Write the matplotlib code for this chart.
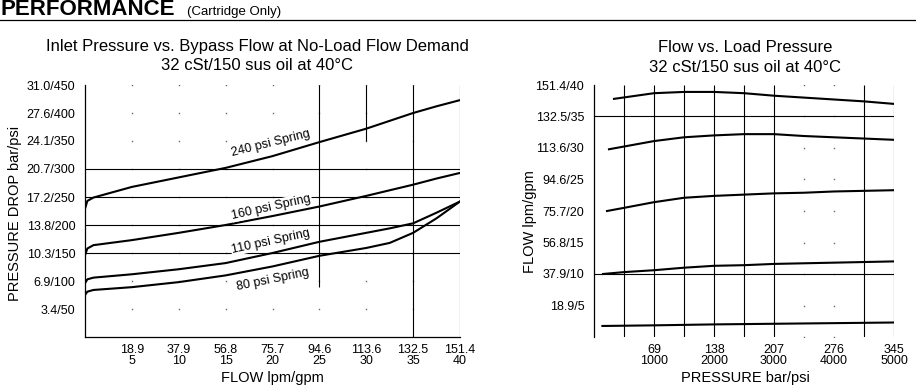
# Performance charts (cartridge only): inlet pressure vs bypass flow, flow vs load pressure
import matplotlib
matplotlib.use("Agg")
import matplotlib.pyplot as plt
from matplotlib.lines import Line2D

plt.rcParams["font.family"] = ["Liberation Sans", "DejaVu Sans"]

# ---- left chart data: flow (gpm) vs pressure drop (psi) ----
flow_gpm = [0, 0.25, 0.9, 5, 10, 15, 20, 25, 30, 32.5, 35, 37.5, 40]
spring_240 = [229, 243, 249, 268, 285, 302, 323, 348, 372, 386, 400, 412, 423]
spring_160 = [146, 158, 164, 173, 186, 200, 216, 233, 252, 262, 272, 283, 293]
spring_110 = [96, 103, 106, 112, 121, 132, 150, 170, 186, 194, 203, 222, 242]
spring_80 = [75, 81, 84, 89, 98, 110, 126, 145, 159, 168, 186, 212, 242]
spring_names = ["240 psi Spring", "160 psi Spring", "110 psi Spring", "80 psi Spring"]

left_xticks = [5, 10, 15, 20, 25, 30, 35, 40]
left_xlabels = ["18.9\n5", "37.9\n10", "56.8\n15", "75.7\n20", "94.6\n25",
                "113.6\n30", "132.5\n35", "151.4\n40"]
left_yticks = [50, 100, 150, 200, 250, 300, 350, 400, 450]
left_ylabels = ["3.4/50", "6.9/100", "10.3/150", "13.8/200", "17.2/250",
                "20.7/300", "24.1/350", "27.6/400", "31.0/450"]

# ---- right chart data: load pressure (psi) vs flow (gpm) ----
p_top = [333, 1000, 1500, 2000, 2500, 3000, 3500, 4000, 4500, 5000]
q_top = [37.8, 38.7, 38.9, 38.9, 38.7, 38.3, 38.0, 37.7, 37.4, 37.0]
p_2 = [250, 1000, 1500, 2000, 2500, 3000, 3500, 4000, 4500, 5000]
q_2 = [29.8, 31.1, 31.7, 32.0, 32.2, 32.2, 31.9, 31.7, 31.5, 31.3]
p_3 = [217, 500, 1000, 1500, 2000, 2500, 3000, 3500, 4000, 4500, 5000]
q_3 = [20.0, 20.5, 21.4, 22.1, 22.4, 22.6, 22.8, 22.9, 23.1, 23.2, 23.3]
p_4 = [150, 500, 1000, 1500, 2000, 2500, 3000, 4000, 5000]
q_4 = [10.0, 10.3, 10.6, 11.0, 11.3, 11.4, 11.6, 11.8, 12.0]
p_5 = [140, 1000, 2000, 3000, 4000, 5000]
q_5 = [1.75, 1.85, 2.0, 2.1, 2.2, 2.3]

right_xticks = [1000, 2000, 3000, 4000, 5000]
right_xlabels = ["69\n1000", "138\n2000", "207\n3000", "276\n4000", "345\n5000"]
right_yticks = [5, 10, 15, 20, 25, 30, 35, 40]
right_ylabels = ["18.9/5", "37.9/10", "56.8/15", "75.7/20", "94.6/25",
                 "113.6/30", "132.5/35", "151.4/40"]

W, H = 916, 386
fig = plt.figure(figsize=(W / 100, H / 100), dpi=100)


def fx(px):
    return px / W


def fy(py):
    return 1 - py / H


# header
fig.text(fx(1), fy(15), "PERFORMANCE", fontsize=16, fontweight="bold", va="baseline")
fig.text(fx(187), fy(15), "(Cartridge Only)", fontsize=9.5, va="baseline")
fig.add_artist(Line2D([0, 1], [fy(19.5), fy(19.5)], color="black", lw=0.9))

# ================= left chart =================
ax = fig.add_axes([fx(85), fy(337), fx(460) - fx(85), fy(85) - fy(337)])
ax.set_xlim(0, 40)
ax.set_ylim(0, 450)
for s in ["top", "right"]:
    ax.spines[s].set_visible(False)
for s in ["left", "bottom"]:
    ax.spines[s].set_linewidth(0.9)

# dotted grid points
for gx in range(5, 40, 5):
    for gy in range(50, 451, 50):
        ax.plot(gx, gy, marker="s", ms=1.0, color="#666666", mew=0)

# partial grid lines
ax.hlines([150, 200, 250, 300], 0, 40, color="black", lw=0.8)
ax.vlines(25, 90, 450, color="black", lw=0.8)
ax.vlines(30, 350, 450, color="black", lw=0.8)
ax.vlines([35, 40], 0, 450, color="black", lw=0.8)

for ys in [spring_240, spring_160, spring_110, spring_80]:
    ax.plot(flow_gpm, ys, color="black", lw=1.5)

# spring labels along the curves
label_pos = [(19.8, 346, 14), (19.9, 232, 12.5), (19.8, 171, 12.3), (20.0, 103, 11.6)]
for name, (lx, ly, rot) in zip(spring_names, label_pos):
    ax.text(lx, ly, name, fontsize=9, rotation=rot, ha="center", va="center",
            rotation_mode="anchor",
            bbox=dict(facecolor="white", edgecolor="none", pad=0.5))

ax.set_xticks(left_xticks, left_xlabels, fontsize=9, linespacing=0.95)
ax.set_yticks(left_yticks, left_ylabels, fontsize=9)
ax.tick_params(length=0)
ax.tick_params(axis="x", pad=5)
ax.tick_params(axis="y", pad=7)

fig.text(fx(257), fy(47), "Inlet Pressure vs. Bypass Flow at No-Load Flow Demand",
         fontsize=12, ha="center", va="center")
fig.text(fx(257), fy(66), "32 cSt/150 sus oil at 40\u00b0C", fontsize=12,
         ha="center", va="center")
fig.text(fx(272), fy(378), "FLOW lpm/gpm", fontsize=10.5, ha="center", va="center")
fig.text(fx(15), fy(213), "PRESSURE DROP bar/psi", fontsize=10.5, ha="center",
         va="center", rotation=90)

# ================= right chart =================
ax2 = fig.add_axes([fx(594), fy(337), fx(894) - fx(594), fy(85) - fy(337)])
ax2.set_xlim(0, 5000)
ax2.set_ylim(0, 40)
for s in ["top", "right", "bottom"]:
    ax2.spines[s].set_visible(False)
ax2.spines["left"].set_linewidth(0.9)

for gx in [3500, 4000]:
    for gy in range(0, 41, 5):
        ax2.plot(gx, gy, marker="s", ms=1.0, color="#666666", mew=0)

ax2.vlines([500, 1000, 1500, 2000, 2500, 3000, 4500, 5000], 0, 40, color="black", lw=0.8)
ax2.hlines([10, 35], 0, 5000, color="black", lw=0.8)

for xs, ys in [(p_top, q_top), (p_2, q_2), (p_3, q_3), (p_4, q_4), (p_5, q_5)]:
    ax2.plot(xs, ys, color="black", lw=1.5)

ax2.set_xticks(right_xticks, right_xlabels, fontsize=9, linespacing=0.95)
ax2.set_yticks(right_yticks, right_ylabels, fontsize=9)
ax2.tick_params(length=0)
ax2.tick_params(axis="x", pad=5)
ax2.tick_params(axis="y", pad=7)

fig.text(fx(745), fy(48), "Flow vs. Load Pressure", fontsize=12, ha="center", va="center")
fig.text(fx(745), fy(67), "32 cSt/150 sus oil at 40\u00b0C", fontsize=12,
         ha="center", va="center")
fig.text(fx(745), fy(378), "PRESSURE bar/psi", fontsize=10.5, ha="center", va="center")
fig.text(fx(530), fy(222), "FLOW lpm/gpm", fontsize=10.5, ha="center", va="center",
         rotation=90)

fig.savefig("out.png", dpi=100)
